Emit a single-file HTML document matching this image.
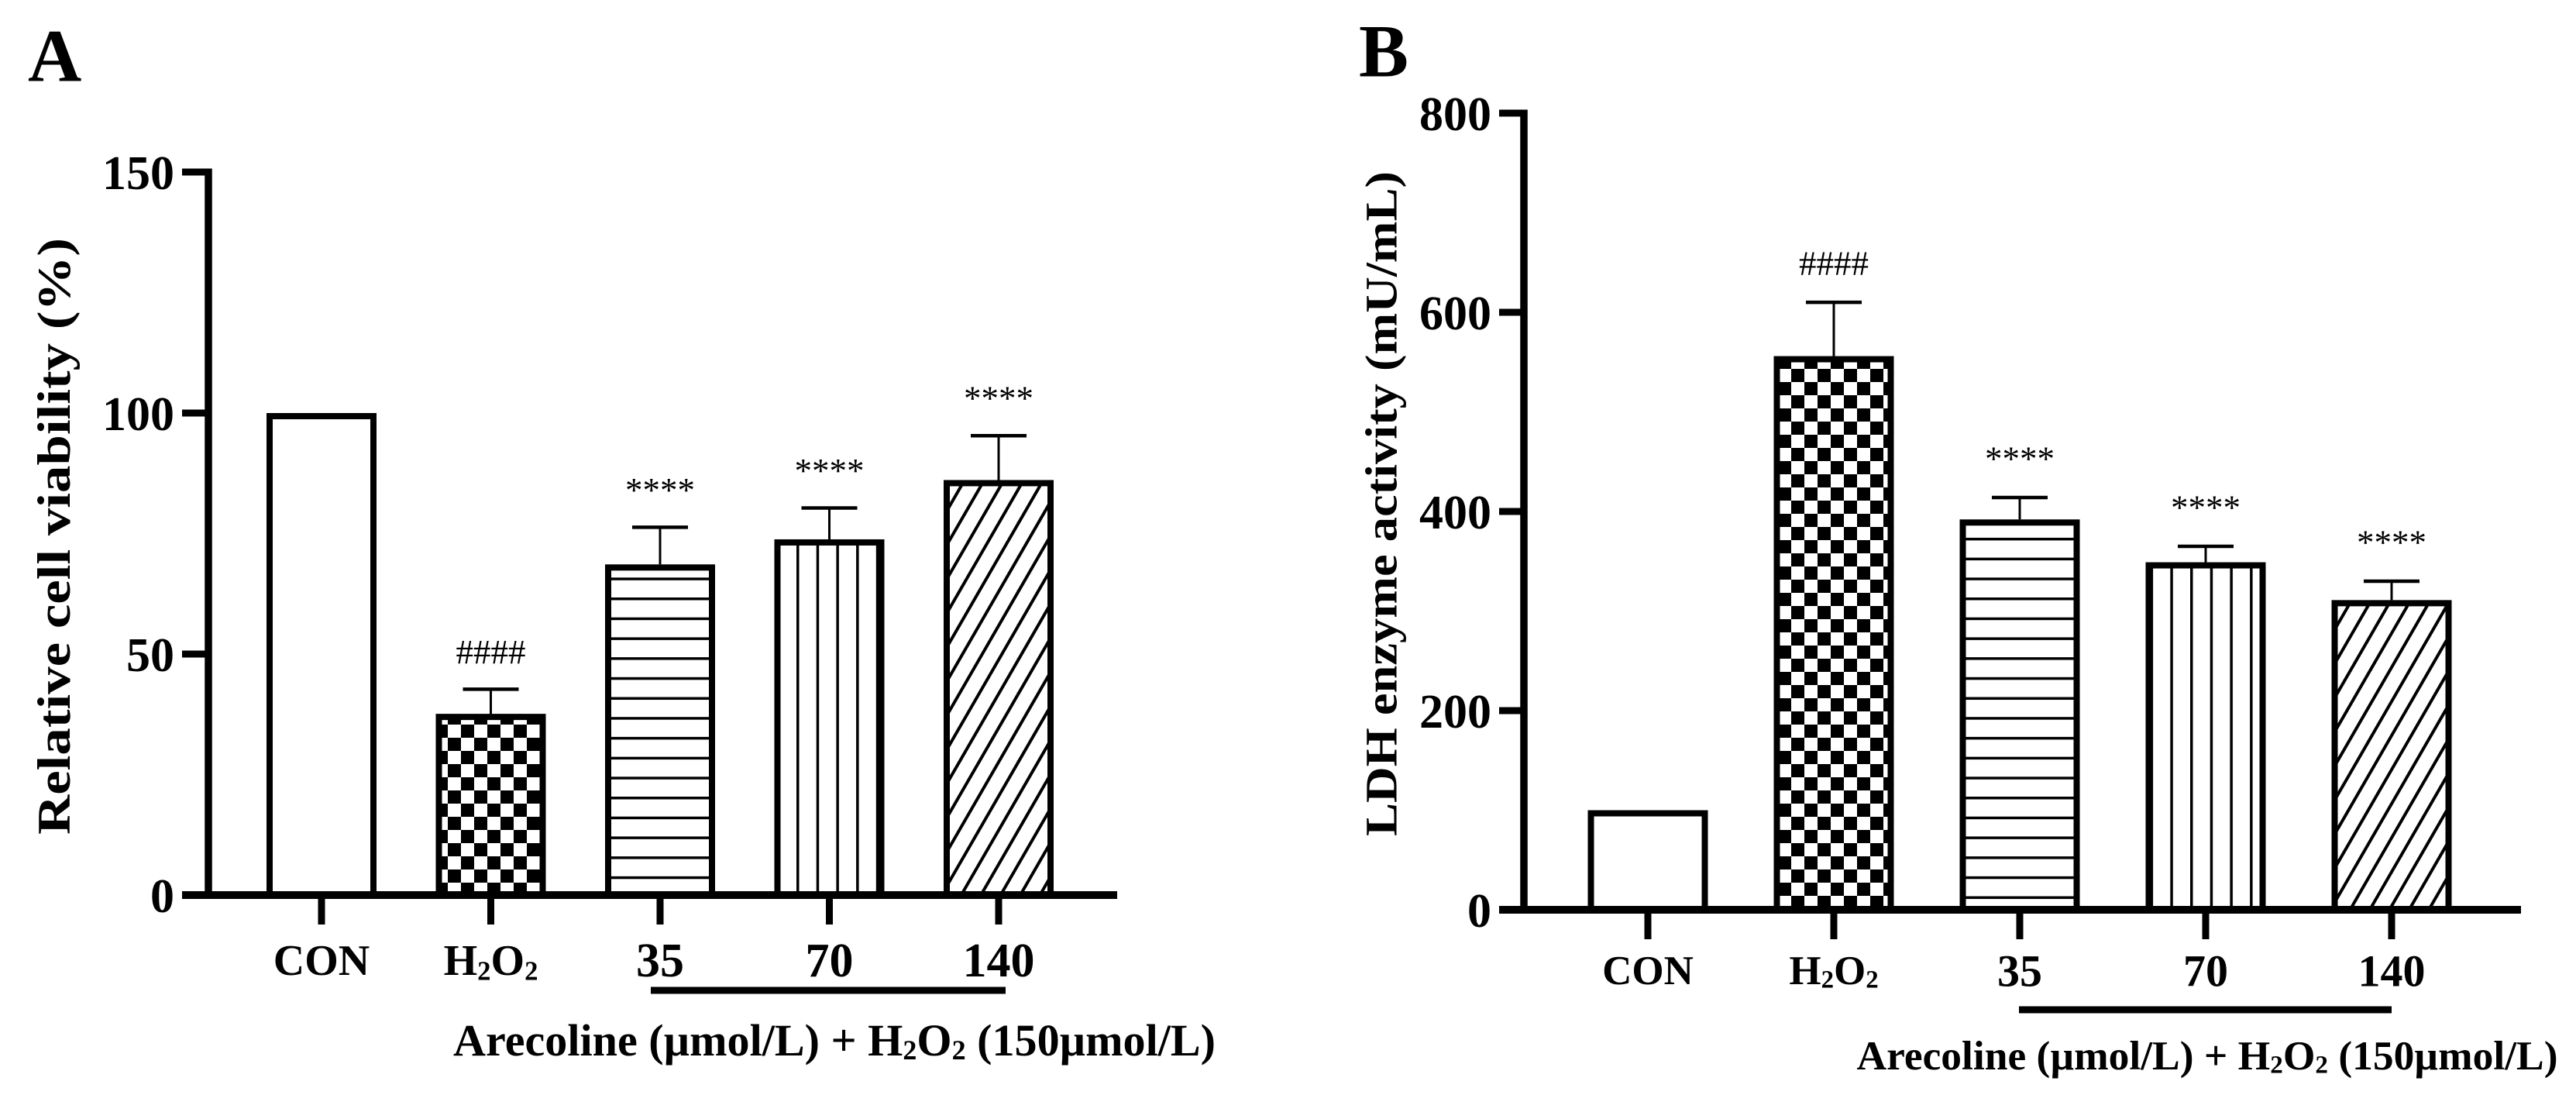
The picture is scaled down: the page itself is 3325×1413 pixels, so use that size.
<!DOCTYPE html>
<html><head><meta charset="utf-8">
<style>
html,body{margin:0;padding:0;background:#fff;}
svg{display:block;font-family:"Liberation Serif",serif;}
</style></head>
<body>
<svg id="fig" width="3325" height="1413" viewBox="0 0 3325 1413" xmlns="http://www.w3.org/2000/svg">
<defs>
  <pattern id="pCheck" patternUnits="userSpaceOnUse" width="34" height="34">
    <rect width="34" height="34" fill="#fff"/>
    <rect x="0" y="0" width="17" height="17" fill="#000"/>
    <rect x="17" y="17" width="17" height="17" fill="#000"/>
  </pattern>
  <pattern id="pHoriz" patternUnits="userSpaceOnUse" width="20" height="25.7">
    <rect width="20" height="25.7" fill="#fff"/>
    <rect x="0" y="0" width="20" height="3.5" fill="#000"/>
  </pattern>
  <pattern id="pVert" patternUnits="userSpaceOnUse" width="25.7" height="20">
    <rect width="25.7" height="20" fill="#fff"/>
    <rect x="0" y="0" width="3.5" height="20" fill="#000"/>
  </pattern>
  <pattern id="pDiag" patternUnits="userSpaceOnUse" width="22" height="22" patternTransform="rotate(30)">
    <rect width="22" height="22" fill="#fff"/>
    <rect x="0" y="0" width="4" height="22" fill="#000"/>
  </pattern>
</defs>
<g id="panelA"></g>
<g id="panelB"></g>
</svg>
<script>
const NS = "http://www.w3.org/2000/svg";
// Data
const categories = ["CON", "H2O2", "35", "70", "140"];
const viabilityValues = [100, 37.6, 68.6, 73.8, 86.1];
const viabilityErrors = [0, 5.1, 7.7, 6.5, 9.2];
const viabilityMarks = ["", "####", "****", "****", "****"];
const viabilityTicks = [0, 50, 100, 150];
const ldhValues = [100, 556, 392, 349, 311];
const ldhErrors = [0, 54, 22, 16, 19];
const ldhMarks = ["", "####", "****", "****", "****"];
const ldhTicks = [0, 200, 400, 600, 800];
const fills = ["#fff", "url(#pCheck)", "url(#pHoriz)", "url(#pVert)", "url(#pDiag)"];

function el(tag, attrs, parent) {
  const e = document.createElementNS(NS, tag);
  for (const k in attrs) e.setAttribute(k, attrs[k]);
  if (parent) parent.appendChild(e);
  return e;
}
function txt(parent, x, y, s, size, weight, anchor, extra) {
  const t = el("text", Object.assign({x: x, y: y, "font-size": size, "font-weight": weight, "text-anchor": anchor || "middle", "dominant-baseline": "central", fill: "#000"}, extra || {}), parent);
  t.textContent = s;
  return t;
}
function h2o2(parent, x, y, size, name) {
  const t = el("text", {x: x, y: y, "font-size": size, "font-weight": "bold", "text-anchor": "middle", "dominant-baseline": "central"}, parent);
  
  
  const parts = [["H", 0], ["2", 1], ["O", 0], ["2", 1]];
  parts.forEach(p => {
    const ts = el("tspan", p[1] ? {"font-size": size * 0.62, dy: size * 0.22} : {dy: 0}, t);
    if (!p[1]) ts.setAttribute("dy", parts.indexOf(p) === 0 ? 0 : -size * 0.22);
    ts.textContent = p[0];
  });
  return t;
}

function drawPanel(cfg) {
  const g = document.getElementById(cfg.id);
  const yScale = v => cfg.y0 - (v - cfg.ymin) / (cfg.ymax - cfg.ymin) * (cfg.y0 - cfg.yTop);
  const xScale = i => cfg.x0tick + i * cfg.step;

  // panel letter
  const L = txt(g, cfg.letterX, cfg.letterY, cfg.letter, 96, "bold", "start");
  
  

  // bars
  cfg.values.forEach((v, i) => {
    const cx = xScale(i);
    const yt = yScale(v);
    const bar = el("rect", {x: cx - cfg.barW / 2 + 4, y: yt + 4, width: cfg.barW - 8, height: cfg.y0 - yt - 4, fill: fills[i], stroke: "#000", "stroke-width": 8}, g);
    
    
    if (cfg.errors[i] > 0) {
      const ye = yScale(v + cfg.errors[i]);
      const eb = el("g", {}, g);
      
      
      el("line", {x1: cx, x2: cx, y1: yt, y2: ye, stroke: "#000", "stroke-width": 3}, eb);
      el("line", {x1: cx - 36, x2: cx + 36, y1: ye, y2: ye, stroke: "#000", "stroke-width": 4.5}, eb);
    }
    if (cfg.marks[i]) {
      const m = txt(g, cx, yScale(v + cfg.errors[i]) - cfg.markGap, cfg.marks[i], 44, "normal", "middle", {textLength: 90, lengthAdjust: "spacingAndGlyphs"});
      
      
    }
  });

  // axes
  const yAxis = el("line", {x1: cfg.axisX, x2: cfg.axisX, y1: cfg.yTop - 4.5, y2: cfg.y0 + 4.5, stroke: "#000", "stroke-width": 9.5}, g);
  
  
  const xAxis = el("line", {x1: cfg.xLeft, x2: cfg.xRight, y1: cfg.y0, y2: cfg.y0, stroke: "#000", "stroke-width": 10}, g);
  
  

  cfg.ticks.forEach(t => {
    const y = yScale(t);
    const tk = el("line", {x1: cfg.xLeft, x2: cfg.axisX, y1: y, y2: y, stroke: "#000", "stroke-width": 9}, g);
    
    
    const lb = txt(g, cfg.xLeft - 10, y + 2, String(t), 62, "bold", "end");
    
    
  });

  categories.forEach((c, i) => {
    const cx = xScale(i);
    const tk = el("line", {x1: cx, x2: cx, y1: cfg.y0, y2: cfg.y0 + 38, stroke: "#000", "stroke-width": 9}, g);
    
    
    if (c === "H2O2") {
      h2o2(g, cx, cfg.labelY, cfg.catFont, 'x-tick-label-h2o2');
    } else {
      const isNum = i >= 2;
      const lb = txt(g, cx, cfg.labelY, c, isNum ? cfg.numFont : cfg.catFont, "bold", "middle");
      
      
    }
  });

  const ul = el("line", {x1: cfg.ulX1, x2: cfg.ulX2, y1: cfg.ulY, y2: cfg.ulY, stroke: "#000", "stroke-width": 9}, g);
  
  

  // x axis title
  const xt = el("text", {x: cfg.xtX, y: cfg.xtY, "font-size": cfg.xtFont, "font-weight": "bold", "text-anchor": "middle", "dominant-baseline": "central", textLength: cfg.xtLen, lengthAdjust: "spacingAndGlyphs"}, g);
  
  
  const segs = [["Arecoline (\u00b5mol/L) + H", 0], ["2", 1], ["O", 0], ["2", 1], [" (150\u00b5mol/L)", 0]];
  let sub = false;
  segs.forEach(s => {
    const ts = el("tspan", {}, xt);
    if (s[1] && !sub) { ts.setAttribute("dy", cfg.xtFont * 0.22); ts.setAttribute("font-size", cfg.xtFont * 0.62); sub = true; }
    else if (s[1]) { ts.setAttribute("dy", 0); ts.setAttribute("font-size", cfg.xtFont * 0.62); }
    else if (sub) { ts.setAttribute("dy", -cfg.xtFont * 0.22); sub = false; }
    ts.textContent = s[0];
  });

  // y axis title
  const yt = el("text", {x: 0, y: 0, "font-size": cfg.ytFont, "font-weight": "bold", "text-anchor": "middle", "dominant-baseline": "central", transform: "translate(" + cfg.ytX + "," + cfg.ytY + ") rotate(-90)", textLength: cfg.ytLen, lengthAdjust: "spacingAndGlyphs"}, g);
  yt.textContent = cfg.yTitle;
  
  
}

drawPanel({
  id: "panelA", letter: "A", letterX: 36, letterY: 72,
  values: viabilityValues, errors: viabilityErrors, marks: viabilityMarks, ticks: viabilityTicks,
  ymin: 0, ymax: 150, y0: 1155, yTop: 222, axisX: 269, xLeft: 235, xRight: 1442,
  x0tick: 415, step: 218.5, barW: 142, markGap: 48,
  labelY: 1240, catFont: 56, numFont: 62,
  ulX1: 840, ulX2: 1298, ulY: 1278,
  xtX: 1077, xtY: 1342, xtFont: 58, xtLen: 984,
  ytX: 70, ytY: 692, ytFont: 60, ytLen: 770, yTitle: "Relative cell viability (%)"
});
drawPanel({
  id: "panelB", letter: "B", letterX: 1754, letterY: 66,
  values: ldhValues, errors: ldhErrors, marks: ldhMarks, ticks: ldhTicks,
  ymin: 0, ymax: 800, y0: 1174, yTop: 146, axisX: 1967, xLeft: 1935, xRight: 3254,
  x0tick: 2127, step: 240, barW: 155, markGap: 50,
  labelY: 1253, catFont: 53, numFont: 58,
  ulX1: 2606, ulX2: 3087, ulY: 1303,
  xtX: 2849, xtY: 1363, xtFont: 53, xtLen: 905,
  ytX: 1783, ytY: 650, ytFont: 58, ytLen: 858, yTitle: "LDH enzyme activity (mU/mL)"
});
</script>
</body></html>
